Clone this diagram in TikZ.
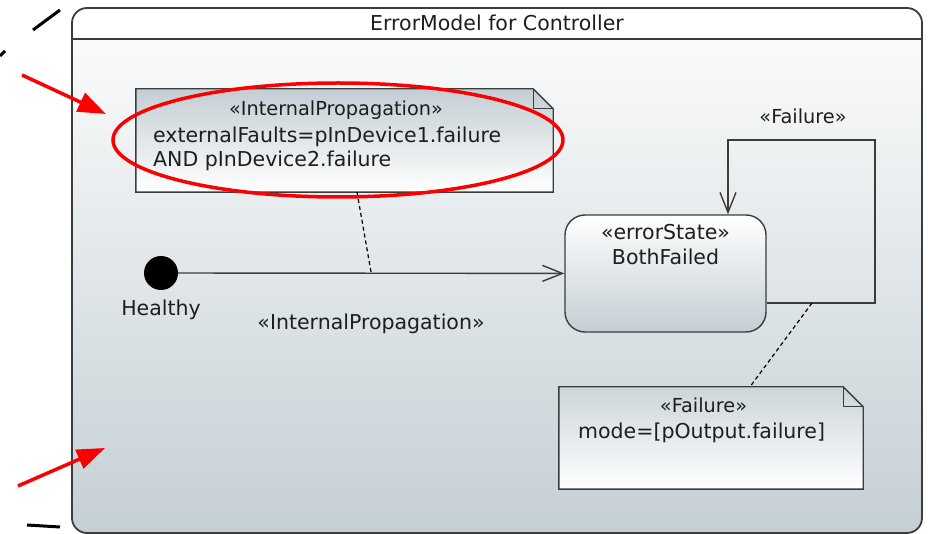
\documentclass[tikz,border=0pt]{standalone}
\usepackage{fontspec}
\setmainfont{DejaVu Sans}
\usepackage{xcolor}
\usetikzlibrary{
	arrows.meta,
	calc,
	positioning
}
\definecolor{FrameTop}{RGB}{250,251,251}
\definecolor{FrameBot}{RGB}{196,207,213}
\definecolor{NoteBlue}{RGB}{195,206,212}
\definecolor{LineGray}{RGB}{60,60,60}
\definecolor{TextGray}{RGB}{30,30,30}
\definecolor{MarkRed}{RGB}{250,0,0}

\tikzset{
	txt/.style={inner sep=0pt, text=TextGray, font=\fontsize{20.5}{24}\selectfont},
	stereo/.style={inner sep=0pt, text=TextGray, font=\fontsize{19.3}{23}\selectfont},
	notebox/.style={inner sep=0pt, draw=none},
	noteline/.style={draw=LineGray, line width=1.4pt},
	errstate/.style={draw=LineGray, line width=1.4pt, rounded corners=20pt,
		top color=white, bottom color=NoteBlue,
		minimum width=201pt, minimum height=117pt, inner sep=0pt},
	initstate/.style={circle, fill=black, minimum size=34pt, inner sep=0pt},
	trans/.style={draw=LineGray, line width=1.4pt, -{Straight Barb[length=20pt,width=16pt]}},
	anchorline/.style={draw=black, line width=1.2pt, dash pattern=on 4pt off 3pt},
	redmark/.style={draw=MarkRed, line width=3.5pt},
	cutmark/.style={draw=black, line width=3pt}
}

\begin{document}
\begin{tikzpicture}[x=1pt, y=-1pt]
	\useasboundingbox (0,0) rectangle (930,534);
	
	% frame of the error model
	\begin{scope}
		\clip[rounded corners=15] (72,8) rectangle (922,533);
		\fill[white] (72,8) rectangle (922,39);
		\shade[top color=FrameTop, bottom color=FrameBot] (72,39) rectangle (922,533);
	\end{scope}
	\draw[LineGray, line width=1.8pt, rounded corners=15] (72,8) rectangle (922,533);
	\draw[LineGray, line width=1.6pt] (72,39) -- (922,39);
	\node[txt] (title) at (497,23) {ErrorModel for Controller};
	
	% note on the propagation
	\node[notebox, minimum width=417pt, minimum height=103pt] (note1) at (344.5,140.5) {};
	\shadedraw[noteline, top color=NoteBlue, bottom color=white]
		(note1.south west) -- (note1.north west) -- ([xshift=-20pt]note1.north east)
		-- ([yshift=-20pt]note1.north east) -- (note1.south east) -- cycle;
	\draw[noteline] ([xshift=-20pt]note1.north east) |- ([yshift=-20pt]note1.north east);
	\node[stereo, anchor=base] (note1st) at (336,116) {«InternalPropagation»};
	\node[txt, align=left, anchor=north west] (note1tx) at (153,126.5)
		{externalFaults=pInDevice1.failure\\AND pInDevice2.failure};
	
	% states
	\node[initstate] (init) at (161,273) {};
	\node[txt, below=9.5pt of init] (healthy) {Healthy};
	\node[errstate] (both) at (665.5,273.5) {};
	\node[txt, align=center, anchor=north, font=\fontsize{20.5}{25}\selectfont]
		(bothtx) at ([yshift=-10pt]both.north) {«errorState»\\BothFailed};
	
	% transition Healthy -> BothFailed
	\draw[trans] (init) -- (both) coordinate[pos=0.5] (tmid);
	\node[txt, anchor=base] (tlabel) at (371,330) {«InternalPropagation»};
	\draw[anchorline] ([xshift=12.5pt]note1.south) -- (tmid);
	
	% self loop on BothFailed
	\coordinate (loopout) at ([yshift=-29.5pt]both.east);
	\coordinate (loopcorner) at (875,140);
	\draw[trans] (loopout) -| (loopcorner) -| ([xshift=62.5pt]both.north);
	\node[stereo] (looplabel) at (803,116) {«Failure»};
	\coordinate (loopdash) at (812,303);
	
	% note on the failure
	\node[notebox, minimum width=304pt, minimum height=102pt] (note2) at (711,438) {};
	\shadedraw[noteline, top color=NoteBlue!85!white, bottom color=white]
		(note2.south west) -- (note2.north west) -- ([xshift=-20pt]note2.north east)
		-- ([yshift=-20pt]note2.north east) -- (note2.south east) -- cycle;
	\draw[noteline] ([xshift=-20pt]note2.north east) |- ([yshift=-20pt]note2.north east);
	\node[stereo, anchor=base] (note2st) at (703.5,413) {«Failure»};
	\node[txt, anchor=base west] (note2tx) at (578,439) {mode=[pOutput.failure]};
	\draw[anchorline] (loopdash) -- ([xshift=39pt]note2.north);
	
	% red marks
	\draw[redmark] (338,140) ellipse [x radius=225, y radius=57];
	\coordinate (ptrA) at (22,75);
	\coordinate (ptrAtip) at (106,114);
	\coordinate (ptrB) at (18,486);
	\coordinate (ptrBtip) at (105,448);
	\draw[redmark, -{Triangle[length=28pt,width=20pt]}] (ptrA) -- (ptrAtip);
	\draw[redmark, -{Triangle[length=28pt,width=20pt]}] (ptrB) -- (ptrBtip);
	
	% cut off dashes at the left edge
	\draw[cutmark] (33,30) -- (60,10);
	\draw[cutmark] (0,56) -- (5,51);
	\draw[cutmark] (27,525) -- (60,527);
\end{tikzpicture}
\end{document}
